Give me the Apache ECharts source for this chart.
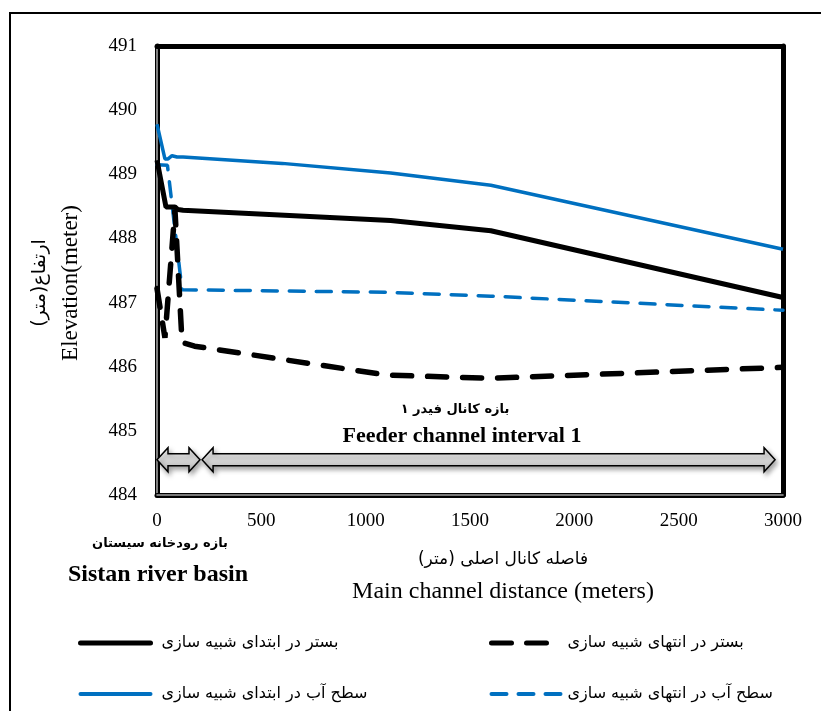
<!DOCTYPE html>
<html>
<head>
<meta charset="utf-8">
<script src="https://cdn.jsdelivr.net/npm/echarts@6/dist/echarts.min.js"></script>
<style>
  html, body { margin: 0; padding: 0; background: #fff; }
  #chart { width: 821px; height: 711px; }
</style>
</head>
<body>
<div id="chart"></div>
<script>
// Longitudinal profile of the main channel: bed and water surface,
// at the start and at the end of the simulation.
const xTicks = { min: 0, max: 3000, step: 500 };
const yTicks = { min: 484, max: 491, step: 1 };

// Bed, start of simulation
const bedStartX = [0, 43, 86, 100, 125, 1120, 1600, 3000];
const bedStartY = [489.22, 488.49, 488.49, 488.45, 488.44, 488.28, 488.12, 487.08];

// Bed, end of simulation
const bedEndX = [0, 38, 86, 120, 180, 1100, 1600, 3000];
const bedEndY = [487.22, 486.45, 488.45, 486.38, 486.32, 485.87, 485.82, 485.99];

// Water surface, start of simulation
const wsStartX = [0, 38, 53, 72, 96, 125, 600, 1120, 1600, 3000];
const wsStartY = [489.78, 489.24, 489.24, 489.29, 489.27, 489.27, 489.17, 489.02, 488.83, 487.83];

// Water surface, end of simulation
const wsEndX = [0, 50, 120, 1100, 1600, 3000];
const wsEndY = [489.15, 489.14, 487.2, 487.16, 487.1, 486.88];

// Reach spans marked with double arrows: [from, to] in metres
const reachSpans = [[0, 206], [216, 2962]];
const reachLevel = 484.55;

const names = {
  bedStart: 'بستر در ابتدای شبیه سازی',
  bedEnd: 'بستر در انتهای شبیه سازی',
  wsStart: 'سطح آب در ابتدای شبیه سازی',
  wsEnd: 'سطح آب در انتهای شبیه سازی'
};

const BLUE = '#0070C0';
const SERIF = '"Liberation Serif", "Times New Roman", serif';
const FA = '"DejaVu Sans", sans-serif';

const pairs = (xs, ys) => xs.map((x, i) => [x, ys[i]]);

const dashBlack = [19, 16];
const dashBlue = [15, 12];

const chart = echarts.init(document.getElementById('chart'));

// Grey double-headed block arrow between two distances at a given elevation
function arrowItem(params, api) {
  const a = api.coord([api.value(0), api.value(2)]);
  const b = api.coord([api.value(1), api.value(2)]);
  const L = a[0], R = b[0], cy = a[1];
  const H = 12, h = 6, hl = 11;
  return {
    type: 'polygon',
    shape: {
      points: [
        [L, cy], [L + hl, cy - H], [L + hl, cy - h], [R - hl, cy - h], [R - hl, cy - H],
        [R, cy], [R - hl, cy + H], [R - hl, cy + h], [L + hl, cy + h], [L + hl, cy + H]
      ]
    },
    style: {
      fill: new echarts.graphic.LinearGradient(0, 0, 0, 1, [
        { offset: 0, color: '#f7f7f7' },
        { offset: 0.5, color: '#d9d9d9' },
        { offset: 1, color: '#b8b8b8' }
      ]),
      stroke: '#000',
      lineWidth: 1.5,
      shadowBlur: 5,
      shadowOffsetX: 2,
      shadowOffsetY: 3,
      shadowColor: 'rgba(0,0,0,0.35)'
    }
  };
}

// Frame-only axes (no labels, no ticks)
function frameAxis(position, color, width) {
  return {
    type: 'value', position: position, min: 0, max: 1,
    axisLine: { show: true, onZero: false, lineStyle: { color: color, width: width } },
    axisLabel: { show: false }, axisTick: { show: false }, splitLine: { show: false }
  };
}

const legendText = { color: '#000', fontFamily: FA, fontSize: 16 };
const noSymbol = { opacity: 0 };

const option = {
  backgroundColor: '#fff',
  animation: false,
  grid: { left: 157, right: 38, top: 46, bottom: 216 },
  xAxis: [
    {
      type: 'value', position: 'bottom',
      min: xTicks.min, max: xTicks.max, interval: xTicks.step,
      axisLine: { show: true, onZero: false, lineStyle: { color: '#000', width: 5 } },
      axisTick: { show: false },
      splitLine: { show: false },
      axisLabel: { color: '#000', fontFamily: SERIF, fontSize: 19, margin: 17, formatter: v => String(v) }
    },
    frameAxis('bottom', '#a0a0a0', 1.6),
    frameAxis('top', '#000', 5)
  ],
  yAxis: [
    {
      type: 'value', position: 'left',
      min: yTicks.min, max: yTicks.max, interval: yTicks.step,
      axisLine: { show: true, onZero: false, lineStyle: { color: '#000', width: 5 } },
      axisTick: { show: false },
      splitLine: { show: false },
      axisLabel: { color: '#000', fontFamily: SERIF, fontSize: 19, margin: 20, formatter: v => String(v) }
    },
    frameAxis('left', '#a0a0a0', 1.6),
    frameAxis('right', '#000', 5)
  ],
  legend: [
    {
      orient: 'vertical', left: 78, top: 635, padding: 0,
      itemWidth: 70, itemHeight: 14, itemGap: 35,
      textStyle: Object.assign({ padding: [0, 0, 0, 6] }, legendText),
      data: [
        { name: names.bedStart, itemStyle: noSymbol, lineStyle: { color: '#000', width: 5, type: 'solid', cap: 'round' } },
        { name: names.wsStart, itemStyle: noSymbol, lineStyle: { color: BLUE, width: 4, type: 'solid', cap: 'round' } }
      ]
    },
    {
      orient: 'vertical', left: 489, top: 635, padding: 0,
      itemWidth: 69, itemHeight: 14, itemGap: 35,
      textStyle: Object.assign({ padding: [0, 0, 0, 2] }, legendText),
      data: [
        { name: names.bedEnd, itemStyle: noSymbol, lineStyle: { color: '#000', width: 5, type: [20, 15], cap: 'round' } },
        { name: names.wsEnd, itemStyle: noSymbol, lineStyle: { color: BLUE, width: 4, type: [15, 12], cap: 'round' } }
      ]
    }
  ],
  series: [
    {
      name: names.wsEnd, type: 'line', symbol: 'none', z: 3,
      data: pairs(wsEndX, wsEndY),
      lineStyle: { color: BLUE, width: 3.5, type: dashBlue, cap: 'round' }
    },
    {
      name: names.bedEnd, type: 'line', symbol: 'none', z: 3,
      data: pairs(bedEndX, bedEndY),
      lineStyle: { color: '#000', width: 5.5, type: dashBlack, cap: 'round' }
    },
    {
      name: names.bedStart, type: 'line', symbol: 'none', z: 4,
      data: pairs(bedStartX, bedStartY),
      lineStyle: { color: '#000', width: 5, type: 'solid' }
    },
    {
      name: names.wsStart, type: 'line', symbol: 'none', z: 4,
      data: pairs(wsStartX, wsStartY),
      lineStyle: { color: BLUE, width: 3.5, type: 'solid' }
    },
    {
      name: 'reaches', type: 'custom', z: 5,
      renderItem: arrowItem,
      data: reachSpans.map(s => [s[0], s[1], reachLevel])
    }
  ],
  graphic: [
    {
      type: 'rect', silent: true, z: -1,
      shape: { x: 10, y: 13, width: 840, height: 740 },
      style: { fill: 'none', stroke: '#000', lineWidth: 2 }
    },
    {
      type: 'text', rotation: Math.PI / 2, x: 71, y: 283,
      style: { text: 'Elevation(meter)', font: '23px ' + SERIF, fill: '#000', align: 'center', verticalAlign: 'middle' }
    },
    {
      type: 'text', rotation: Math.PI / 2, x: 40, y: 283,
      style: { text: 'ارتفاع(متر)', font: '19px ' + FA, fill: '#000', align: 'center', verticalAlign: 'middle' }
    },
    {
      type: 'text', x: 455, y: 410,
      style: { text: 'بازه کانال فیدر ۱', font: 'bold 13px ' + FA, fill: '#000', align: 'center', verticalAlign: 'middle' }
    },
    {
      type: 'text', x: 462, y: 436,
      style: { text: 'Feeder channel interval 1', font: 'bold 22px ' + SERIF, fill: '#000', align: 'center', verticalAlign: 'middle' }
    },
    {
      type: 'text', x: 160, y: 544,
      style: { text: 'بازه رودخانه سیستان', font: 'bold 13px ' + FA, fill: '#000', align: 'center', verticalAlign: 'middle' }
    },
    {
      type: 'text', x: 158, y: 575,
      style: { text: 'Sistan river basin', font: 'bold 24px ' + SERIF, fill: '#000', align: 'center', verticalAlign: 'middle' }
    },
    {
      type: 'text', x: 503, y: 560,
      style: { text: 'فاصله کانال اصلی (متر)', font: '17px ' + FA, fill: '#000', align: 'center', verticalAlign: 'middle' }
    },
    {
      type: 'text', x: 503, y: 592,
      style: { text: 'Main channel distance (meters)', font: '24px ' + SERIF, fill: '#000', align: 'center', verticalAlign: 'middle' }
    }
  ]
};

chart.setOption(option);
</script>
</body>
</html>
